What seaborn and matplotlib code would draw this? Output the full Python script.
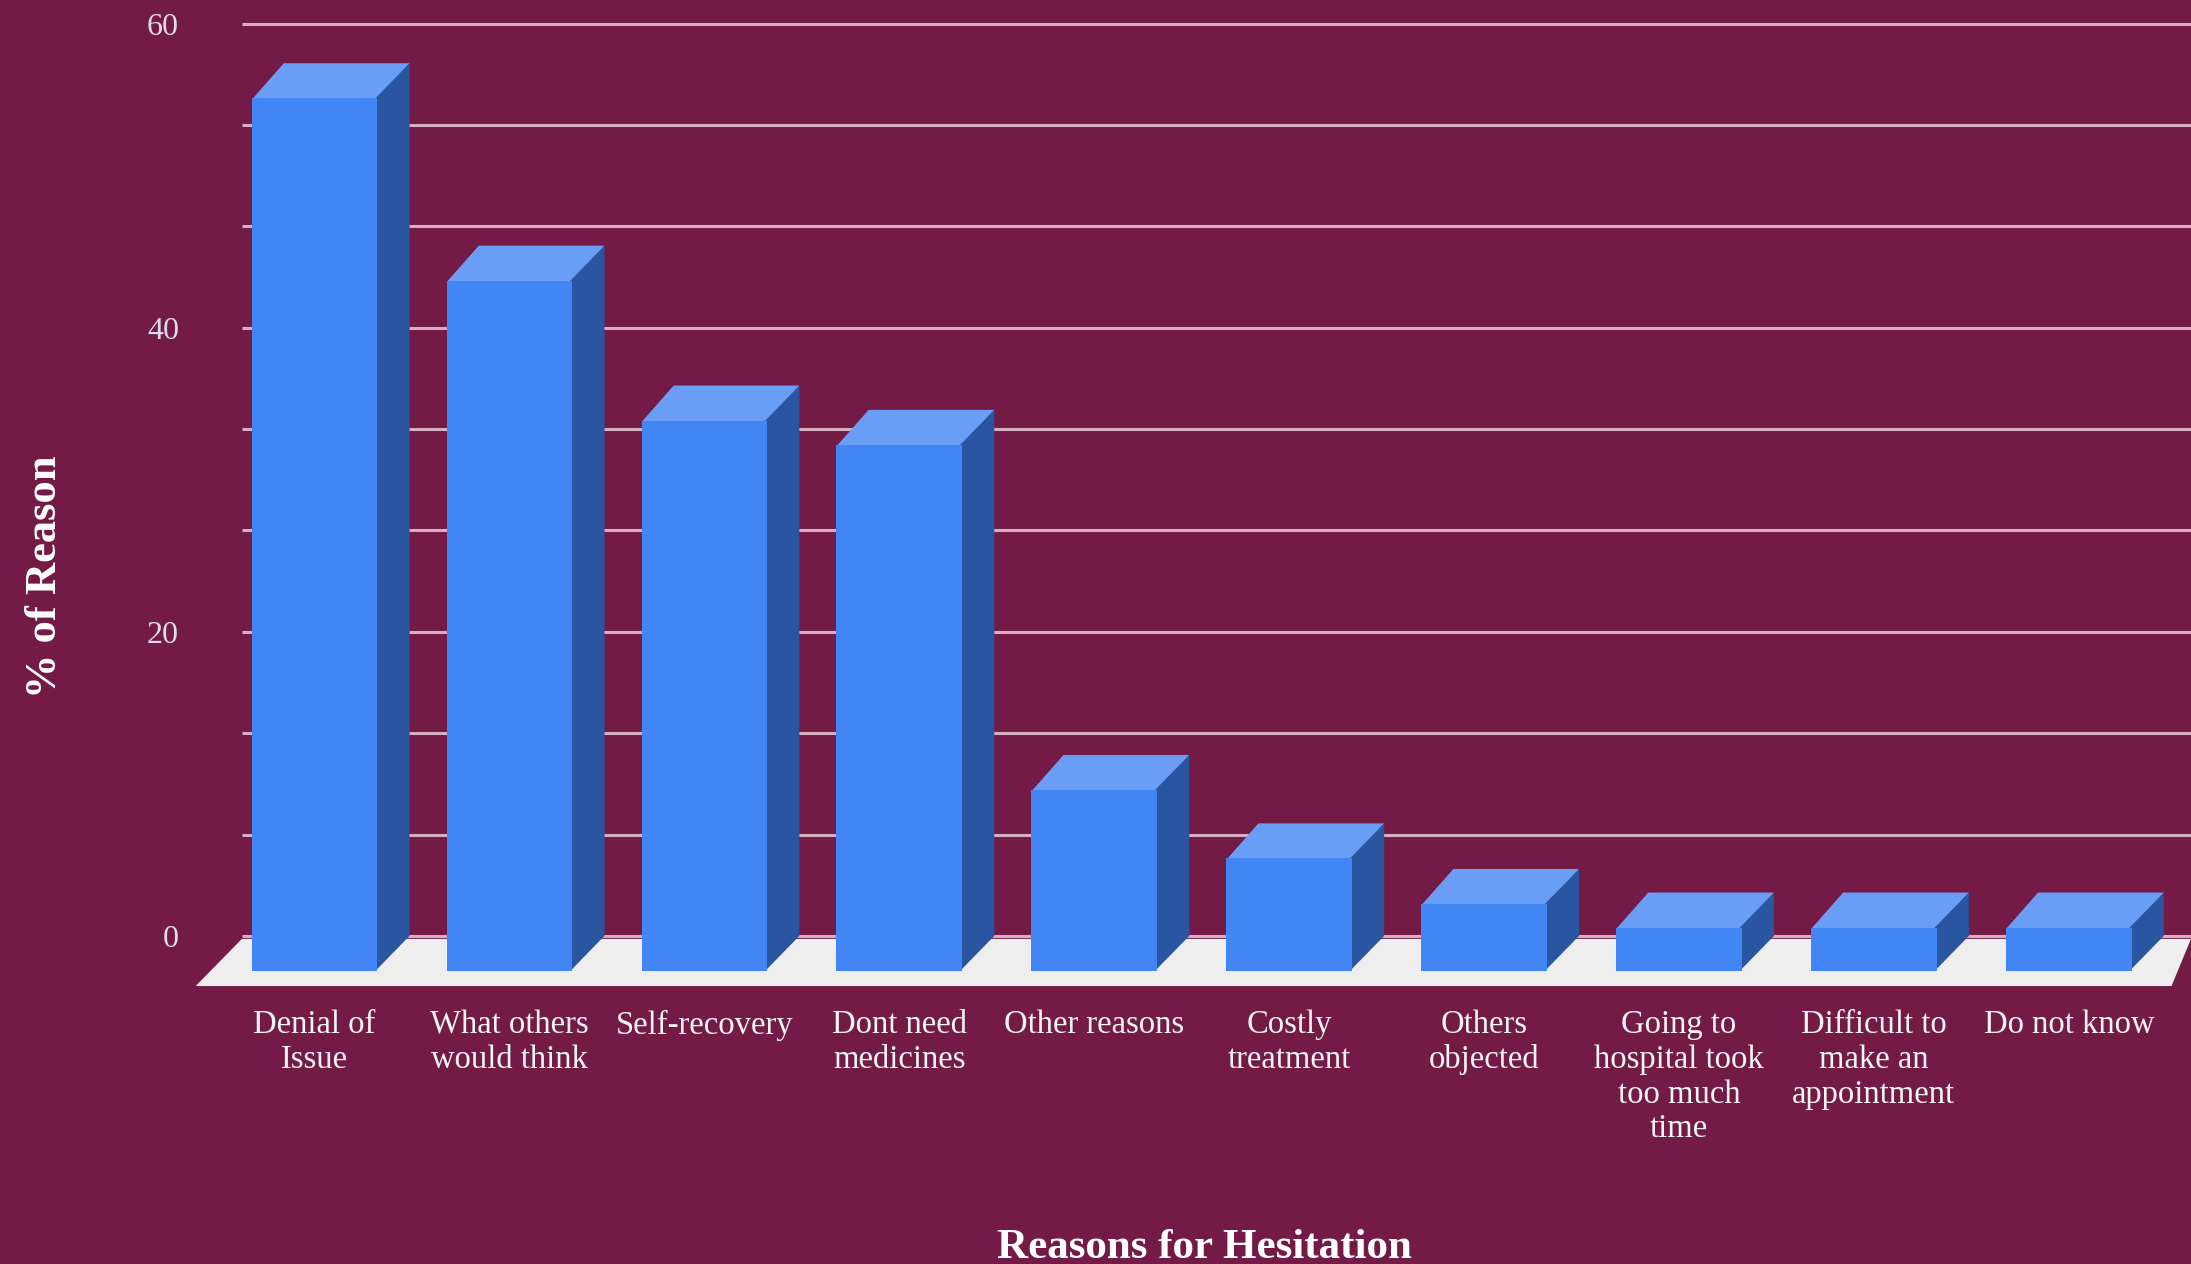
import numpy as np
import seaborn as sns
import matplotlib.pyplot as plt
from matplotlib.patches import Polygon

# data
categorias = ['Denial of Issue', 'What others would think', 'Self-recovery', 'Dont need medicines',
              'Other reasons', 'Costly treatment', 'Others objected',
              'Going to hospital took too much time', 'Difficult to make an appointment', 'Do not know']
rotulos_x = ['Denial of\nIssue', 'What others\nwould think', 'Self-recovery', 'Dont need\nmedicines',
             'Other reasons', 'Costly\ntreatment', 'Others\nobjected',
             'Going to\nhospital took\ntoo much\ntime', 'Difficult to\nmake an\nappointment', 'Do not know']
percentuais = [57.4, 45.4, 36.2, 34.6, 11.9, 7.4, 4.4, 2.85, 2.85, 2.85]
ticks_y = [0, 20, 40, 60]

# cores e profundidade do efeito 3D
FUNDO = '#731b46'
AZUL = '#4285f4'
AZUL_TOPO = '#6a9ef6'
AZUL_LADO = '#2a55a0'
PISO = '#eeeeee'
DX, DY = 0.165, 2.3

sns.set_style('white')
plt.rcParams['font.family'] = ['Liberation Serif', 'DejaVu Serif']

fig = plt.figure(figsize=(21.91, 12.64), dpi=100, facecolor=FUNDO)
ax = fig.add_axes([0.0893, 0.2199, 0.9107, 0.7801])
ax.set_facecolor(FUNDO)

sns.barplot(x=categorias, y=percentuais, color=AZUL, saturation=1, width=0.645, ax=ax)
barras = list(ax.patches)

x_min, x_max = -0.61, 9.627
ax.set_xlim(x_min, x_max)
ax.set_ylim(-1.0, 63.86)

# grade na parede do fundo (deslocada pela profundidade)
ax.hlines(np.linspace(0, 60, 10) + DY, -0.373, x_max, color='#d6aec2', lw=2.2, zorder=0.5)

# piso
piso = Polygon([(x_min, -1.0), (9.527, -1.0), (x_max, 2.1), (-0.373, 2.1)],
               closed=True, facecolor=PISO, edgecolor='none', zorder=0.8, clip_on=False)
ax.add_patch(piso)

# faces superior e lateral de cada barra (um pouco sobrepostas para evitar frestas)
e = 0.01
for p in barras:
    x0, w, h = p.get_x(), p.get_width(), p.get_height()
    p.set_edgecolor('none')
    p.set_zorder(3)
    topo = Polygon([(x0, h - 0.1), (x0 + w, h - 0.1), (x0 + w + DX, h + DY), (x0 + DX, h + DY)],
                   closed=True, facecolor=AZUL_TOPO, edgecolor='none', zorder=2.5, clip_on=False)
    lado = Polygon([(x0 + w - e, 0), (x0 + w + DX, DY), (x0 + w + DX, h + DY), (x0 + w - e, h)],
                   closed=True, facecolor=AZUL_LADO, edgecolor='none', zorder=2.6, clip_on=False)
    ax.add_patch(topo)
    ax.add_patch(lado)

ax.set_yticks([v + DY for v in ticks_y])
ax.set_yticklabels([str(v) for v in ticks_y], fontsize=23, color='#dcdce8')
ax.set_xticks(range(len(categorias)))
ax.set_xticklabels(rotulos_x, fontsize=23.5, color='#f4f4f4', linespacing=1.18)
ax.tick_params(axis='y', length=0, pad=12)
ax.tick_params(axis='x', length=0, pad=17)
ax.set_xlabel('')
ax.set_ylabel('')
for s in ax.spines.values():
    s.set_visible(False)
ax.grid(False)

fig.text(0.5497, 0.0047, 'Reasons for Hesitation', ha='center', va='baseline',
         fontsize=31, fontweight='bold', color='white')
fig.text(0.0205, 0.5435, '% of Reason', ha='center', va='center', rotation=90,
         fontsize=32, fontweight='bold', color='white')

fig.savefig('out.png', dpi=100, facecolor=FUNDO)
